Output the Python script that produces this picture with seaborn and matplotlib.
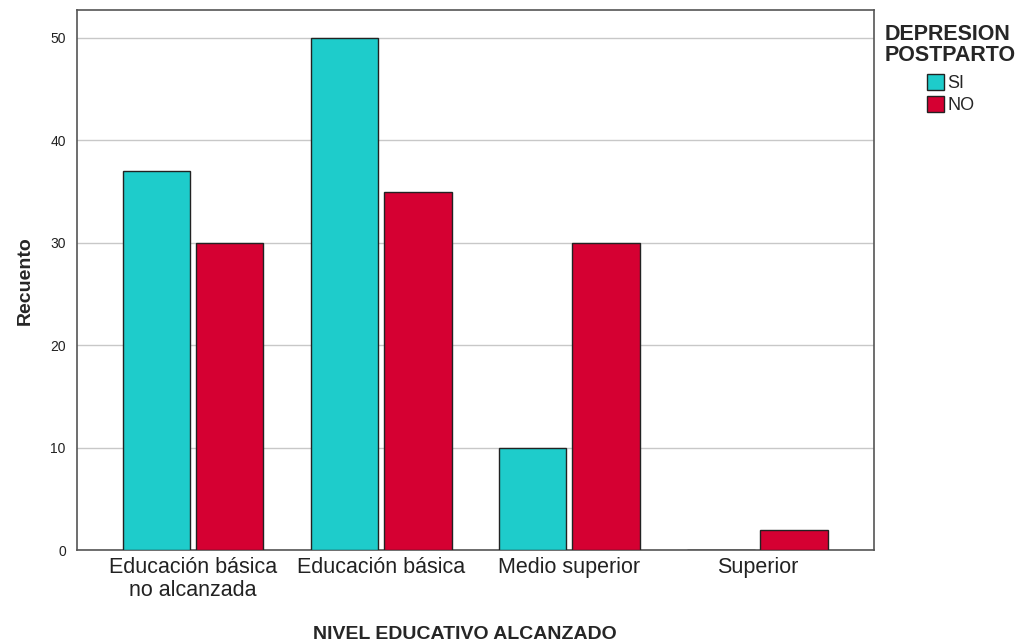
import pandas as pd
import matplotlib
matplotlib.use("Agg")
import matplotlib.pyplot as plt
import seaborn as sns

# values
niveles = ["Educación básica\nno alcanzada", "Educación básica", "Medio superior", "Superior"]
si_counts = [37, 50, 10, 0]
no_counts = [30, 35, 30, 2]
grupos = ["SI", "NO"]
colores = {"SI": "#1ECCCB", "NO": "#D50032"}
y_ticks = [0, 10, 20, 30, 40, 50]


def main():
    df = pd.DataFrame({
        "nivel": niveles * 2,
        "depresion": ["SI"] * len(niveles) + ["NO"] * len(niveles),
        "recuento": si_counts + no_counts,
    })

    sns.set_style("white")
    plt.rcParams["font.family"] = ["Liberation Sans", "DejaVu Sans"]

    fig = plt.figure(figsize=(10.26, 6.42), dpi=100)
    ax = fig.add_axes([0.075, 0.1433, 0.777, 0.8407])

    sns.barplot(data=df, x="nivel", y="recuento", hue="depresion", hue_order=grupos,
                order=niveles, palette=colores, width=0.78, gap=0.08,
                edgecolor="#222222", linewidth=1, saturation=1, ax=ax, zorder=3)

    ax.set_xlim(-0.617, 3.62)
    ax.set_ylim(0, 52.7)
    ax.set_yticks(y_ticks)
    ax.yaxis.grid(True, color="#c8c8c8", linewidth=1, zorder=0)
    ax.set_axisbelow(True)
    ax.tick_params(axis="y", length=0, labelsize=10, pad=8, colors="#222222")
    ax.tick_params(axis="x", length=0, labelsize=15.5, pad=5, colors="#222222")
    for lbl in ax.get_xticklabels():
        lbl.set_linespacing(1.15)
    for s in ax.spines.values():
        s.set_color("#555555")
        s.set_linewidth(1.2)

    ax.set_ylabel("Recuento", fontsize=14, fontweight="bold", labelpad=12)
    ax.set_xlabel("NIVEL EDUCATIVO ALCANZADO", fontsize=14, fontweight="bold", labelpad=18)
    ax.xaxis.label.set_x(0.487)

    handles, labels = ax.get_legend_handles_labels()
    ax.legend_.remove()
    leg = fig.legend(handles, labels, title="DEPRESION\nPOSTPARTO", loc="upper left",
                     bbox_to_anchor=(0.8625, 0.9625), frameon=False, fontsize=13,
                     title_fontproperties={"weight": "bold", "size": 15.5},
                     handlelength=0.95, handleheight=0.95, handletextpad=0.2,
                     labelspacing=0.2, borderpad=0, borderaxespad=0)
    leg._legend_box.align = "center"
    leg._legend_box.sep = 6
    leg.get_title().set_linespacing(1.0)

    fig.savefig("out.png", dpi=100)


if __name__ == "__main__":
    main()
